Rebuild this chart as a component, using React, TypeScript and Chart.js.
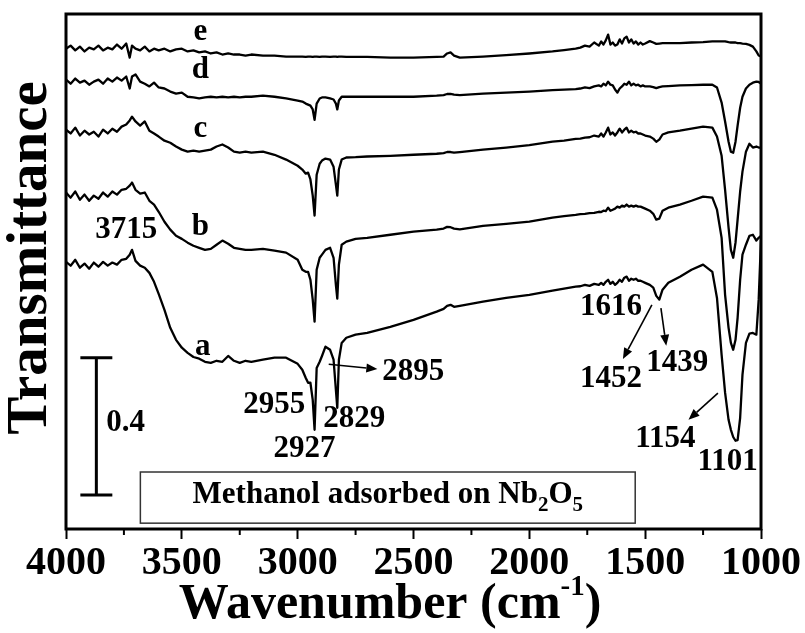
import React, { useEffect, useRef } from "react";
import { Chart, registerables } from "chart.js";
Chart.register(...registerables);

const FONT = '"Liberation Serif", "Times New Roman", Times, serif';

// Wavenumber grid (cm-1), shared by all five spectra
const wavenumbers = [
  4000, 3980, 3960, 3940, 3920, 3900, 3880, 3860, 3840, 3820, 3800, 3780, 3760, 3740,
  3725, 3715, 3700, 3680, 3660, 3640, 3620, 3600, 3575, 3550, 3525, 3500, 3475, 3450,
  3425, 3400, 3375, 3350, 3325, 3300, 3275, 3250, 3225, 3200, 3150, 3100, 3050, 3000,
  2980, 2965, 2955, 2945, 2935, 2927, 2918, 2905, 2895, 2880, 2860, 2845, 2835, 2829,
  2822, 2810, 2790, 2750, 2700, 2600, 2500, 2400, 2370, 2355, 2340, 2325, 2300, 2200,
  2100, 2000, 1900, 1850, 1800, 1780, 1760, 1740, 1720, 1700, 1690, 1680, 1670, 1660,
  1650, 1640, 1630, 1620, 1610, 1600, 1590, 1580, 1570, 1560, 1550, 1540, 1530, 1520,
  1510, 1500, 1480, 1465, 1452, 1439, 1425, 1400, 1350, 1300, 1250, 1210, 1190, 1170,
  1155, 1140, 1130, 1120, 1110, 1101, 1090, 1080, 1065, 1050, 1035, 1020, 1010, 1000,
];

// Transmittance (offset, a.u.)
const spectrumE = [
  1.399, 1.408, 1.394, 1.405, 1.391, 1.402, 1.397, 1.408, 1.394, 1.402, 1.397, 1.411, 1.399, 1.414,
  1.373, 1.408, 1.399, 1.394, 1.405, 1.391, 1.399, 1.394, 1.399, 1.391, 1.397, 1.399, 1.391, 1.394,
  1.388, 1.391, 1.385, 1.388, 1.382, 1.385, 1.382, 1.382, 1.379, 1.382, 1.379, 1.379, 1.376, 1.376,
  1.376, 1.375, 1.376, 1.376, 1.375, 1.376, 1.376, 1.375, 1.376, 1.376, 1.375, 1.376, 1.376, 1.375,
  1.376, 1.376, 1.375, 1.375, 1.375, 1.373, 1.373, 1.375, 1.376, 1.385, 1.388, 1.379, 1.373, 1.376,
  1.380, 1.385, 1.391, 1.395, 1.399, 1.402, 1.408, 1.405, 1.417, 1.408, 1.420, 1.411, 1.423, 1.440,
  1.411, 1.417, 1.408, 1.411, 1.426, 1.414, 1.429, 1.434, 1.417, 1.426, 1.414, 1.420, 1.411, 1.417,
  1.411, 1.414, 1.421, 1.417, 1.413, 1.414, 1.415, 1.415, 1.415, 1.417, 1.418, 1.420, 1.420, 1.420,
  1.420, 1.418, 1.417, 1.417, 1.417, 1.415, 1.415, 1.414, 1.413, 1.410, 1.405, 1.391, 1.379, 1.376,
];

const spectrumD = [
  1.309, 1.297, 1.312, 1.300, 1.306, 1.294, 1.303, 1.309, 1.297, 1.312, 1.303, 1.315, 1.306, 1.318,
  1.283, 1.318, 1.324, 1.303, 1.297, 1.289, 1.300, 1.286, 1.283, 1.274, 1.268, 1.271, 1.259, 1.257,
  1.254, 1.257, 1.259, 1.257, 1.259, 1.257, 1.259, 1.257, 1.259, 1.259, 1.262, 1.259, 1.254, 1.248,
  1.245, 1.239, 1.236, 1.233, 1.222, 1.192, 1.239, 1.254, 1.257, 1.257, 1.254, 1.251, 1.239, 1.222,
  1.248, 1.259, 1.259, 1.259, 1.259, 1.259, 1.259, 1.262, 1.264, 1.267, 1.267, 1.265, 1.264, 1.268,
  1.271, 1.274, 1.278, 1.280, 1.281, 1.283, 1.286, 1.284, 1.289, 1.292, 1.289, 1.297, 1.292, 1.303,
  1.294, 1.292, 1.280, 1.271, 1.283, 1.289, 1.297, 1.294, 1.303, 1.292, 1.297, 1.292, 1.294, 1.289,
  1.292, 1.289, 1.289, 1.287, 1.284, 1.287, 1.289, 1.290, 1.292, 1.293, 1.294, 1.294, 1.286, 1.242,
  1.187, 1.128, 1.099, 1.096, 1.128, 1.175, 1.227, 1.259, 1.283, 1.294, 1.300, 1.303, 1.302, 1.297,
];

const spectrumC = [
  1.163, 1.152, 1.169, 1.146, 1.160, 1.149, 1.157, 1.143, 1.163, 1.152, 1.166, 1.157, 1.172, 1.178,
  1.190, 1.201, 1.187, 1.175, 1.187, 1.160, 1.152, 1.143, 1.131, 1.125, 1.114, 1.105, 1.099, 1.102,
  1.099, 1.102, 1.105, 1.114, 1.120, 1.111, 1.099, 1.096, 1.099, 1.096, 1.099, 1.090, 1.076, 1.058,
  1.047, 1.035, 1.038, 1.018, 0.971, 0.913, 1.032, 1.064, 1.073, 1.079, 1.076, 1.055, 1.003, 0.971,
  1.047, 1.076, 1.082, 1.083, 1.085, 1.087, 1.090, 1.093, 1.095, 1.098, 1.098, 1.096, 1.098, 1.105,
  1.111, 1.118, 1.128, 1.131, 1.136, 1.137, 1.140, 1.141, 1.146, 1.143, 1.152, 1.143, 1.155, 1.169,
  1.149, 1.155, 1.146, 1.155, 1.166, 1.155, 1.163, 1.169, 1.155, 1.160, 1.155, 1.157, 1.152, 1.152,
  1.149, 1.146, 1.143, 1.137, 1.128, 1.134, 1.149, 1.155, 1.160, 1.166, 1.172, 1.169, 1.143, 1.087,
  0.988, 0.878, 0.813, 0.790, 0.834, 0.901, 0.983, 1.041, 1.099, 1.122, 1.111, 1.114, 1.111, 1.111,
];

const spectrumB = [
  0.980, 0.965, 0.983, 0.959, 0.974, 0.956, 0.971, 0.962, 0.980, 0.968, 0.983, 0.974, 0.988, 0.991,
  1.000, 1.009, 0.988, 0.977, 0.980, 0.956, 0.945, 0.924, 0.895, 0.872, 0.854, 0.845, 0.834, 0.825,
  0.819, 0.813, 0.816, 0.828, 0.840, 0.831, 0.819, 0.816, 0.813, 0.813, 0.816, 0.811, 0.805, 0.784,
  0.755, 0.749, 0.749, 0.726, 0.668, 0.604, 0.755, 0.790, 0.799, 0.813, 0.819, 0.790, 0.711, 0.671,
  0.770, 0.828, 0.837, 0.845, 0.848, 0.857, 0.866, 0.872, 0.875, 0.880, 0.879, 0.875, 0.873, 0.883,
  0.889, 0.895, 0.907, 0.911, 0.915, 0.917, 0.918, 0.920, 0.921, 0.924, 0.923, 0.927, 0.926, 0.936,
  0.927, 0.930, 0.933, 0.939, 0.936, 0.942, 0.939, 0.945, 0.939, 0.942, 0.939, 0.942, 0.939, 0.939,
  0.936, 0.933, 0.927, 0.918, 0.901, 0.904, 0.927, 0.936, 0.945, 0.956, 0.968, 0.965, 0.930, 0.848,
  0.682, 0.586, 0.542, 0.522, 0.551, 0.615, 0.726, 0.799, 0.828, 0.854, 0.857, 0.840, 0.848, 0.854,
];

const spectrumA = [
  0.778, 0.767, 0.784, 0.761, 0.773, 0.758, 0.776, 0.764, 0.778, 0.767, 0.776, 0.770, 0.784, 0.787,
  0.799, 0.813, 0.781, 0.767, 0.761, 0.746, 0.720, 0.685, 0.638, 0.586, 0.551, 0.528, 0.513, 0.501,
  0.496, 0.487, 0.484, 0.490, 0.487, 0.504, 0.490, 0.484, 0.490, 0.487, 0.493, 0.499, 0.499, 0.481,
  0.464, 0.440, 0.426, 0.426, 0.376, 0.289, 0.469, 0.487, 0.504, 0.531, 0.522, 0.493, 0.405, 0.353,
  0.493, 0.542, 0.557, 0.566, 0.571, 0.589, 0.609, 0.633, 0.641, 0.650, 0.653, 0.647, 0.650, 0.662,
  0.673, 0.682, 0.694, 0.700, 0.706, 0.707, 0.711, 0.708, 0.714, 0.711, 0.717, 0.711, 0.720, 0.726,
  0.714, 0.720, 0.711, 0.717, 0.726, 0.720, 0.732, 0.735, 0.723, 0.729, 0.726, 0.729, 0.723, 0.723,
  0.720, 0.717, 0.711, 0.703, 0.679, 0.668, 0.697, 0.717, 0.735, 0.755, 0.770, 0.749, 0.673, 0.507,
  0.397, 0.318, 0.289, 0.268, 0.257, 0.259, 0.324, 0.449, 0.542, 0.569, 0.571, 0.566, 0.668, 0.843,
];

const spectra = [spectrumA, spectrumB, spectrumC, spectrumD, spectrumE];
const spectrumNames = ["a", "b", "c", "d", "e"];

// Axis
const xMin = 1000;
const xMax = 4000;
const xMajorStep = 500;
const xMinorTicks = [3750, 3250, 2750, 2250, 1750, 1250];
const yMin = 0;
const yMax = 1.5;

// Annotations (data coordinates: wavenumber, transmittance)
const textLabels = [
  { text: "e", x: 3420, y: 1.423 },
  { text: "d", x: 3420, y: 1.314 },
  { text: "c", x: 3420, y: 1.143 },
  { text: "b", x: 3420, y: 0.857 },
  { text: "3715", x: 3740, y: 0.847 },
  { text: "a", x: 3410, y: 0.507 },
  { text: "2955", x: 3101, y: 0.337 },
  { text: "2927", x: 2971, y: 0.211 },
  { text: "2829", x: 2756, y: 0.298 },
  { text: "2895", x: 2501, y: 0.434 },
  { text: "1616", x: 1647, y: 0.624 },
  { text: "1452", x: 1647, y: 0.415 },
  { text: "1439", x: 1362, y: 0.459 },
  { text: "1154", x: 1413, y: 0.24 },
  { text: "1101", x: 1144, y: 0.172 },
];

const arrows = [
  { x1: 2866, y1: 0.48, x2: 2656, y2: 0.466 },
  { x1: 1471, y1: 0.653, x2: 1596, y2: 0.495 },
  { x1: 1432, y1: 0.643, x2: 1409, y2: 0.534 },
  { x1: 1186, y1: 0.396, x2: 1313, y2: 0.318 },
];

const scaleBar = { x: 3869, from: 0.099, size: 0.4, capHalf: 69, label: "0.4", labelX: 3826, labelY: 0.284 };
const titleBox = { x1: 3679, x2: 1543, y1: 0.017, y2: 0.166, textY: 0.076 };
const boxText = [
  { t: "Methanol adsorbed on Nb", sub: false },
  { t: "2", sub: true },
  { t: "O", sub: false },
  { t: "5", sub: true },
];

const xTitle = "Wavenumber (cm";
const xTitleSup = "-1";
const yTitle = "Transmittance";

const overlayPlugin = {
  id: "overlay",
  afterDraw(chart: any) {
    const { ctx, chartArea: ca, scales } = chart;
    const xs = scales.x;
    const ys = scales.y;
    const px = (v: number) => xs.getPixelForValue(v);
    const py = (v: number) => ys.getPixelForValue(v);
    ctx.save();
    ctx.strokeStyle = "#000";
    ctx.fillStyle = "#000";

    // frame
    ctx.lineWidth = 3;
    ctx.strokeRect(ca.left, ca.top, ca.right - ca.left, ca.bottom - ca.top);

    // minor ticks
    ctx.lineWidth = 2;
    xMinorTicks.forEach((t) => {
      const x = px(t);
      ctx.beginPath();
      ctx.moveTo(x, ca.bottom);
      ctx.lineTo(x, ca.bottom + 6);
      ctx.stroke();
    });

    // scale bar
    ctx.lineWidth = 3;
    const sbx = px(scaleBar.x);
    const sy1 = py(scaleBar.from);
    const sy2 = py(scaleBar.from + scaleBar.size);
    const cl = px(scaleBar.x + scaleBar.capHalf);
    const cr = px(scaleBar.x - scaleBar.capHalf);
    ctx.beginPath();
    ctx.moveTo(sbx, sy1);
    ctx.lineTo(sbx, sy2);
    ctx.moveTo(cl, sy1);
    ctx.lineTo(cr, sy1);
    ctx.moveTo(cl, sy2);
    ctx.lineTo(cr, sy2);
    ctx.stroke();
    ctx.font = `bold 31px ${FONT}`;
    ctx.textAlign = "left";
    ctx.textBaseline = "alphabetic";
    ctx.fillText(scaleBar.label, px(scaleBar.labelX), py(scaleBar.labelY));

    // text labels
    ctx.textAlign = "center";
    textLabels.forEach((l) => {
      ctx.fillText(l.text, px(l.x), py(l.y));
    });

    // arrows
    ctx.lineWidth = 1.6;
    arrows.forEach((a) => {
      const x1 = px(a.x1), y1 = py(a.y1), x2 = px(a.x2), y2 = py(a.y2);
      const ang = Math.atan2(y2 - y1, x2 - x1);
      const hl = 11, hw = 4.5;
      const bx = x2 - hl * Math.cos(ang), by = y2 - hl * Math.sin(ang);
      ctx.beginPath();
      ctx.moveTo(x1, y1);
      ctx.lineTo(bx, by);
      ctx.stroke();
      ctx.beginPath();
      ctx.moveTo(x2, y2);
      ctx.lineTo(bx + hw * Math.sin(ang), by - hw * Math.cos(ang));
      ctx.lineTo(bx - hw * Math.sin(ang), by + hw * Math.cos(ang));
      ctx.closePath();
      ctx.fill();
    });

    // title box
    const bx1 = px(titleBox.x1), bx2 = px(titleBox.x2);
    const by1 = py(titleBox.y2), by2 = py(titleBox.y1);
    ctx.lineWidth = 1.5;
    ctx.strokeStyle = "#333";
    ctx.strokeRect(bx1, by1, bx2 - bx1, by2 - by1);
    const mainFont = `bold 31px ${FONT}`;
    const subFont = `bold 21px ${FONT}`;
    let total = 0;
    boxText.forEach((s) => {
      ctx.font = s.sub ? subFont : mainFont;
      total += ctx.measureText(s.t).width;
    });
    let cx = (bx1 + bx2) / 2 - total / 2;
    const base = py(titleBox.textY);
    ctx.textAlign = "left";
    boxText.forEach((s) => {
      ctx.font = s.sub ? subFont : mainFont;
      ctx.fillText(s.t, cx, s.sub ? base + 8 : base);
      cx += ctx.measureText(s.t).width;
    });

    // x title with superscript
    const tf = `bold 50px ${FONT}`;
    const sf = `bold 29px ${FONT}`;
    ctx.font = tf;
    const w1 = ctx.measureText(xTitle).width;
    const w3 = ctx.measureText(")").width;
    ctx.font = sf;
    const w2 = ctx.measureText(xTitleSup).width;
    let tx = 390 - (w1 + w2 + w3) / 2;
    const tb = 618;
    ctx.font = tf;
    ctx.fillText(xTitle, tx, tb);
    tx += w1;
    ctx.font = sf;
    ctx.fillText(xTitleSup, tx, tb - 23);
    tx += w2;
    ctx.font = tf;
    ctx.fillText(")", tx, tb);

    // y title
    ctx.save();
    ctx.translate(46, 258);
    ctx.rotate(-Math.PI / 2);
    ctx.font = `bold 57px ${FONT}`;
    ctx.textAlign = "center";
    ctx.textBaseline = "alphabetic";
    ctx.fillText(yTitle, 0, 0);
    ctx.restore();

    ctx.restore();
  },
};

export default function App() {
  const canvasRef = useRef<HTMLCanvasElement | null>(null);

  useEffect(() => {
    const canvas = canvasRef.current;
    if (!canvas) return;
    const datasets = spectra.map((s, k) => ({
      label: spectrumNames[k],
      data: wavenumbers.map((w, i) => ({ x: w, y: s[i] })),
      borderColor: "#000",
      borderWidth: 2.3,
      pointRadius: 0,
      tension: 0,
      fill: false,
      borderJoinStyle: "round" as const,
    }));
    const chart = new Chart(canvas, {
      type: "line",
      data: { datasets },
      options: {
        animation: false,
        responsive: true,
        maintainAspectRatio: false,
        layout: { padding: { left: 66, top: 14, right: 44, bottom: 0 } },
        plugins: { legend: { display: false }, tooltip: { enabled: false } },
        scales: {
          x: {
            type: "linear",
            reverse: true,
            min: xMin,
            max: xMax,
            afterFit: (s: any) => {
              s.height = 104;
            },
            ticks: {
              stepSize: xMajorStep,
              autoSkip: false,
              maxRotation: 0,
              padding: 1,
              color: "#000",
              font: { family: FONT, size: 40, weight: "bold" },
              callback: (v: any) => String(v),
            },
            grid: {
              drawOnChartArea: false,
              drawTicks: true,
              tickLength: 10,
              tickWidth: 2,
              tickColor: "#000",
              color: "#000",
            },
            border: { display: false },
          },
          y: {
            display: false,
            min: yMin,
            max: yMax,
          },
        },
      },
      plugins: [overlayPlugin],
    });
    return () => chart.destroy();
  }, []);

  return (
    <div style={{ position: "absolute", left: 0, top: 0, width: 805, height: 633, background: "#fff" }}>
      <canvas ref={canvasRef} />
    </div>
  );
}
